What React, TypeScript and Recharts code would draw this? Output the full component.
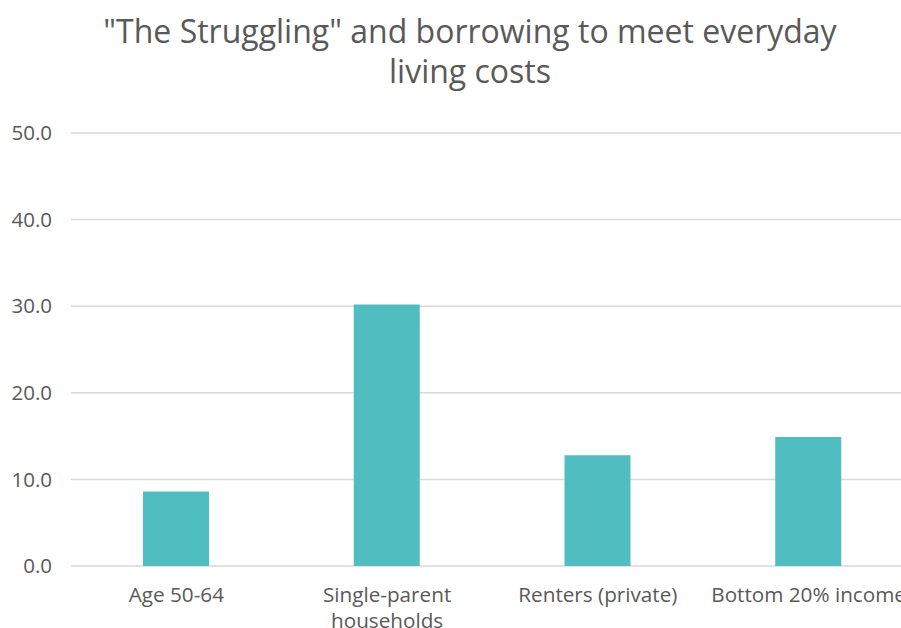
import React from "react";
import { BarChart, Bar, XAxis, YAxis, CartesianGrid } from "recharts";

const categories = ["Age 50-64", "Single-parent\nhouseholds", "Renters (private)", "Bottom 20% income"];
const shares = [8.6, 30.2, 12.8, 14.9];
const yTicks = [0, 10, 20, 30, 40, 50];

const data = categories.map((c, i) => ({ name: c, value: shares[i] }));

const FONT = "'Open Sans', sans-serif";
const GREY = "#595959";

function CategoryTick(props: any) {
  const { x, y, payload } = props;
  const lines = String(payload.value).split("\n");
  return (
    <text x={x} y={y + 34} textAnchor="middle" fill={GREY} fontSize={20.7} fontFamily={FONT}>
      {lines.map((l, i) => (
        <tspan key={i} x={x} dy={i === 0 ? 0 : 26}>
          {l}
        </tspan>
      ))}
    </text>
  );
}

export default function App() {
  return (
    <div
      style={{
        position: "fixed",
        left: 0,
        top: 0,
        width: 901,
        height: 628,
        overflow: "hidden",
        background: "#fff",
      }}
    >
      <div
        style={{
          position: "absolute",
          left: 0,
          top: 11,
          width: 940,
          textAlign: "center",
          fontFamily: FONT,
          fontSize: 32,
          lineHeight: "40px",
          color: GREY,
        }}
      >
        "The Struggling" and borrowing to meet everyday
        <br />
        living costs
      </div>
      <BarChart
        width={930}
        height={628}
        data={data}
        margin={{ top: 133, right: 16, bottom: 32, left: 11 }}
      >
        <CartesianGrid vertical={false} stroke="#d9d9d9" strokeWidth={1.5} />
        <XAxis
          dataKey="name"
          axisLine={false}
          tickLine={false}
          tickSize={0}
          interval={0}
          tick={<CategoryTick />}
        />
        <YAxis
          domain={[0, 50]}
          ticks={yTicks}
          width={60}
          axisLine={false}
          tickLine={false}
          tickSize={0}
          tickMargin={19}
          tickFormatter={(v: number) => v.toFixed(1)}
          tick={{ fill: GREY, fontSize: 20.5, fontFamily: FONT }}
        />
        <Bar dataKey="value" fill="#50bdc1" barSize={66} isAnimationActive={false} />
      </BarChart>
    </div>
  );
}
